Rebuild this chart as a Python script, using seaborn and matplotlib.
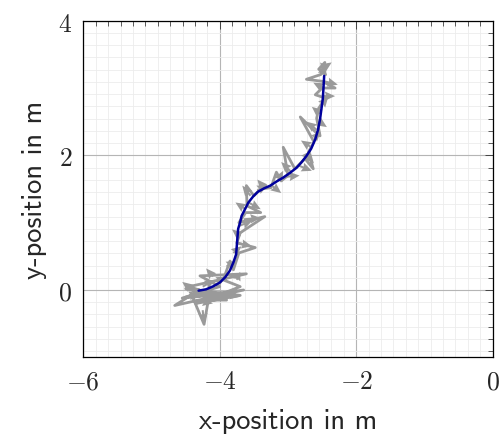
import numpy as np
import pandas as pd
import matplotlib
matplotlib.use("Agg")
import matplotlib.pyplot as plt
from matplotlib.ticker import AutoMinorLocator, FixedLocator
import seaborn as sns

# Reference (blue) trajectory
ref_x = [-4.31, -4.20, -4.095, -4.00, -3.92, -3.85, -3.80, -3.76, -3.75, -3.74, -3.73,
         -3.70, -3.68, -3.63, -3.58, -3.51, -3.44, -3.35, -3.26, -3.17, -3.07, -2.97,
         -2.87, -2.80, -2.73, -2.66, -2.60, -2.56, -2.53, -2.51, -2.49, -2.48, -2.47]
ref_y = [-0.01, 0.01, 0.055, 0.11, 0.19, 0.29, 0.41, 0.53, 0.66, 0.79, 0.91,
         1.01, 1.10, 1.20, 1.30, 1.39, 1.46, 1.51, 1.55, 1.61, 1.67, 1.74,
         1.82, 1.90, 1.99, 2.10, 2.24, 2.38, 2.54, 2.69, 2.84, 3.00, 3.18]

# Noisy (gray) estimated trajectory
est_x = [-4.30, -4.66, -3.65, -4.40, -4.23, -4.15, -4.45, -3.61, -4.29, -4.00,
         -4.55, -3.80, -4.35, -3.70, -4.50, -3.90,
         -4.20, -3.70, -3.95, -3.85, -3.80, -3.72, -3.48, -3.75, -3.70, -3.34,
         -3.72, -3.62, -3.40, -3.60, -3.61, -3.50, -3.40, -3.25, -3.17, -3.10,
         -3.00, -3.07, -2.90, -2.75, -2.63, -2.70, -2.62, -2.82, -2.60, -2.53,
         -2.58, -2.55, -2.45, -2.60, -2.50, -2.31, -2.50, -2.73, -2.52, -2.46,
         -2.55, -2.45]
est_y = [0.00, -0.23, 0.00, -0.10, -0.51, -0.05, 0.05, 0.24, 0.21, 0.05,
         -0.12, -0.05, -0.20, -0.08, 0.02, -0.15,
         -0.15, 0.05, 0.15, 0.43, 0.30, 0.55, 0.63, 0.70, 0.85, 1.09,
         1.00, 1.15, 1.15, 1.25, 1.55, 1.40, 1.50, 1.52, 1.75, 1.62,
         1.70, 2.12, 1.80, 1.95, 1.80, 2.05, 2.20, 2.57, 2.35, 2.29,
         2.55, 2.70, 2.85, 2.90, 3.00, 3.00, 3.10, 3.13, 3.20, 3.38,
         3.28, 3.20]

# Orientation arrows of the estimate (gray)
arr_x = [-4.50, -4.40, -4.35, -4.25, -4.15, -4.05, -4.25, -3.95, -4.10, -3.75, -3.90,
         -3.80, -3.75, -3.70, -3.72, -3.65, -3.62, -3.58, -3.55, -3.45, -3.35, -3.25,
         -3.15, -3.05, -2.95, -2.85, -2.78, -2.72,
         -2.66, -2.62, -2.58, -2.55, -2.53, -2.51, -2.49, -2.48, -2.47, -2.50, -2.45, -2.48]
arr_y = [-0.10, 0.00, -0.15, 0.05, -0.08, 0.12, -0.30, -0.05, 0.20, 0.15, 0.35,
         0.55, 0.70, 0.80, 0.95, 1.05, 1.20, 1.30, 1.40, 1.48, 1.52, 1.56,
         1.62, 1.68, 1.75, 1.85, 1.92, 2.00,
         2.12, 2.25, 2.38, 2.50, 2.62, 2.75, 2.88, 3.00, 3.10, 3.20, 3.28, 3.30]
arr_u = [0.20, -0.15, 0.25, 0.18, -0.20, 0.15, 0.02, 0.25, -0.10, 0.05, 0.15,
         0.12, 0.22, -0.12, 0.20, 0.25, -0.15, 0.18, -0.12, 0.15, -0.10, 0.15,
         0.08, 0.22, -0.15, 0.20, 0.12, 0.10,
         -0.15, 0.10, -0.15, 0.12, -0.12, 0.10, 0.18, -0.15, 0.20, 0.05, -0.08, 0.12]
arr_v = [0.05, 0.12, -0.05, 0.10, 0.05, 0.08, -0.20, -0.05, 0.12, 0.12, 0.08,
         0.10, -0.05, 0.10, 0.08, 0.02, 0.10, -0.10, 0.15, 0.08, 0.12, -0.12,
         0.15, 0.02, 0.15, -0.08, 0.15, -0.12,
         0.10, 0.10, 0.12, -0.08, 0.10, 0.12, 0.00, 0.08, -0.05, 0.15, 0.10, 0.08]

x_ticks = [-6, -4, -2, 0]
y_ticks = [0, 2, 4]

sns.set_theme(style="white")
plt.rcParams["mathtext.fontset"] = "cm"

fig = plt.figure(figsize=(4.99, 4.35), dpi=100)
ax = fig.add_axes([0.1669, 0.1763, 0.8205, 0.7738])

ax.grid(which="minor", color="#ececec", lw=0.6, zorder=0)
ax.grid(which="major", color="#b5b5b5", lw=0.8, zorder=0)
ax.set_axisbelow(True)

gray = "#9a9a9a"
sns.lineplot(x=est_x, y=est_y, sort=False, estimator=None, color=gray, lw=2.0, ax=ax)
ax.quiver(arr_x, arr_y, arr_u, arr_v, color=gray, angles="xy", scale_units="xy",
          scale=1, width=0.005, headwidth=4.5, headlength=5, headaxislength=4.5, zorder=3)
sns.lineplot(x=ref_x, y=ref_y, sort=False, estimator=None, color="#00009c", lw=1.8, ax=ax, zorder=4)

ax.set_xlim(-6, 0)
ax.set_ylim(-1, 4)
ax.xaxis.set_major_locator(FixedLocator(x_ticks))
ax.yaxis.set_major_locator(FixedLocator(y_ticks))
ax.xaxis.set_minor_locator(AutoMinorLocator(11))
ax.yaxis.set_minor_locator(AutoMinorLocator(11))
ax.set_xticklabels([f"${t}$" if t >= 0 else f"$-{abs(t)}$" for t in x_ticks], fontsize=18.5)
ax.set_yticklabels([f"${t}$" for t in y_ticks], fontsize=18.5)
ax.tick_params(which="both", direction="in", top=True, right=True, color="#444444")
ax.tick_params(which="major", length=6, width=0.7, pad=8)
ax.tick_params(which="minor", length=3.5, width=0.6)

for s in ax.spines.values():
    s.set_color("black")
    s.set_linewidth(0.9)

ax.set_xlabel("x-position in m", fontfamily="cmss10", fontsize=20.5, labelpad=10)
ax.set_ylabel("y-position in m", fontfamily="cmss10", fontsize=20.5, labelpad=8)

fig.savefig("out.png", dpi=100)
